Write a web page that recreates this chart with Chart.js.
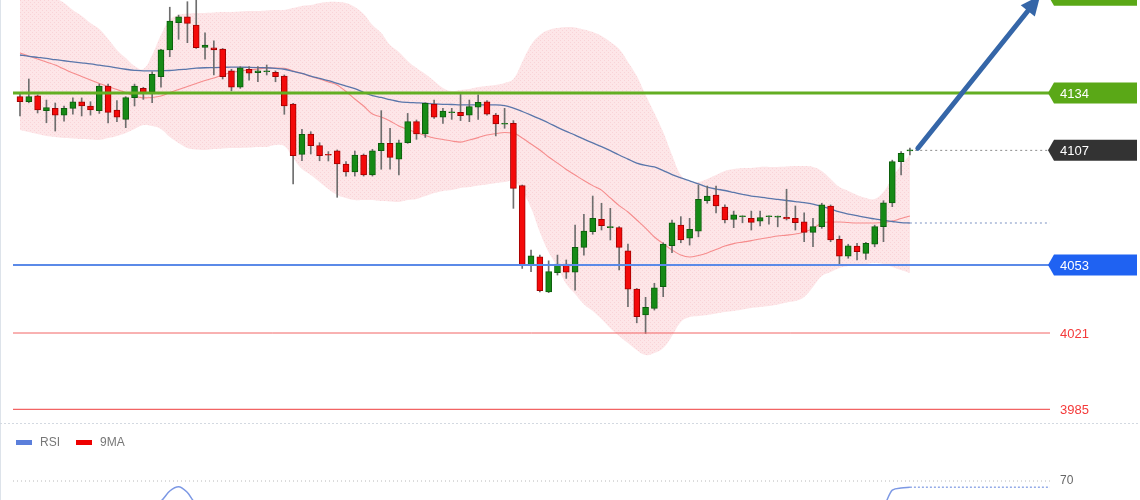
<!DOCTYPE html>
<html><head><meta charset="utf-8">
<script src="https://cdn.jsdelivr.net/npm/chart.js@4.4.0/dist/chart.umd.min.js"></script>
<style>
html,body{margin:0;padding:0;background:#fff;}
#wrap{position:relative;width:1140px;height:500px;overflow:hidden;background:#fff;}
#main{position:absolute;left:0;top:0;}
#rsiBox{position:absolute;left:0;top:422px;width:1140px;height:78px;overflow:hidden;}
</style></head><body>
<div id="wrap">
<canvas id="main" width="1140" height="422"></canvas>
<div id="rsiBox"><canvas id="rsi" width="1140" height="200"></canvas></div>
</div>
<script>
// ---------------- DATA ----------------
const opens = [4132.3,4129.9,4132.7,4125.7,4126.8,4123.6,4126.8,4129.9,4127.9,4125.7,
4137.3,4126.0,4121.6,4131.8,4136.2,4134.6,4141.7,4154.3,4167.1,4169.9,
4166.0,4155.5,4155.3,4154.7,4144.4,4136.7,4145.2,4143.6,4144.0,4143.8,
4142.0,4128.8,4105.1,4114.7,4109.2,4105.1,4106.8,4100.6,4096.9,4104.8,
4095.4,4106.8,4110.3,4102.8,4110.6,4120.5,4114.7,4128.8,4122.6,4124.7,
4124.9,4123.6,4127.3,4129.9,4123.6,4119.3,4119.7,4090.4,4052.7,4056.9,
4040.4,4049.4,4053.5,4049.6,4061.3,4068.7,4074.5,4070.6,4070.6,4059.7,
4041.7,4029.5,4032.6,4042.8,4062.1,4071.8,4065.6,4069.0,4083.3,4086.0,
4080.3,4074.5,4075.8,4075.0,4073.7,4075.8,4075.6,4075.5,4075.0,4073.4,
4068.4,4071.1,4080.8,4065.1,4057.2,4061.9,4058.5,4062.8,4071.1,4082.3,
4101.7,4106.7];
const highs = [4134.0,4140.6,4133.1,4130.7,4129.3,4127.9,4131.7,4131.7,4129.9,4138.2,
4138.2,4130.4,4132.3,4138.2,4136.7,4144.0,4154.6,4174.4,4170.7,4177.0,
4178.5,4162.4,4158.6,4155.0,4145.2,4146.4,4146.4,4146.4,4147.2,4144.4,
4142.5,4129.2,4116.9,4115.8,4110.6,4106.4,4107.2,4101.7,4106.7,4105.3,
4107.5,4125.7,4117.4,4111.9,4124.4,4121.3,4129.4,4130.7,4126.8,4126.8,
4133.5,4130.7,4133.1,4130.4,4124.4,4126.8,4121.0,4090.7,4060.1,4057.7,
4055.0,4057.7,4055.4,4071.8,4076.9,4085.5,4082.1,4079.7,4071.1,4062.9,
4042.0,4037.8,4044.4,4063.5,4074.2,4075.8,4075.0,4090.7,4090.2,4090.2,
4081.3,4078.4,4076.2,4078.4,4078.4,4076.2,4076.1,4088.7,4080.8,4077.6,
4075.0,4082.1,4081.3,4066.7,4062.8,4063.2,4063.7,4071.8,4083.3,4102.4,
4106.4,4108.1];
const lows = [4123.2,4129.4,4124.6,4120.0,4116.1,4120.8,4124.1,4123.2,4123.6,4124.4,
4119.9,4120.5,4117.7,4127.9,4131.0,4129.4,4136.7,4151.1,4159.3,4157.7,
4155.0,4149.9,4142.5,4140.6,4135.0,4136.2,4140.1,4139.3,4142.5,4139.3,
4124.0,4091.2,4102.1,4105.3,4102.1,4102.0,4084.9,4094.9,4094.9,4094.9,
4094.9,4098.1,4098.1,4095.4,4110.3,4112.2,4113.1,4122.1,4119.7,4121.6,
4121.0,4120.5,4121.6,4123.6,4113.8,4117.4,4079.7,4051.4,4049.9,4040.4,
4040.0,4048.3,4046.7,4041.2,4057.7,4067.5,4069.5,4064.8,4050.7,4033.4,
4025.8,4020.8,4031.8,4038.1,4058.8,4063.5,4062.4,4066.3,4082.1,4077.6,
4072.8,4070.6,4072.9,4069.5,4071.4,4072.3,4071.0,4074.2,4069.5,4064.0,
4061.6,4070.3,4064.0,4053.3,4056.2,4055.4,4055.7,4061.6,4064.0,4080.5,
4095.4,4104.8];
const closes = [4129.9,4132.3,4126.0,4127.1,4123.6,4126.8,4129.9,4127.9,4126.0,4137.3,
4124.9,4122.6,4131.8,4137.3,4133.9,4142.8,4154.3,4167.9,4169.9,4166.8,
4155.3,4156.6,4154.3,4141.7,4136.7,4145.9,4143.3,4144.4,4144.5,4141.7,
4127.9,4104.5,4114.6,4109.2,4104.5,4104.7,4100.6,4096.9,4104.8,4095.4,
4106.8,4110.3,4103.7,4110.6,4120.5,4114.7,4129.2,4122.6,4125.5,4125.2,
4123.3,4127.6,4129.6,4124.0,4119.4,4119.7,4089.1,4052.7,4057.4,4040.9,
4049.9,4053.5,4049.6,4061.3,4069.0,4075.0,4071.5,4071.1,4061.3,4041.6,
4028.7,4033.1,4042.3,4062.9,4072.9,4064.8,4069.8,4083.9,4085.5,4080.8,
4074.2,4076.6,4076.2,4073.1,4075.3,4076.2,4076.1,4074.7,4072.9,4068.4,
4071.1,4081.3,4064.8,4057.2,4062.1,4059.3,4063.2,4071.1,4082.3,4101.7,
4105.6,4107.2];
const bandUpper = [4182.5,4181.6,4180.6,4180.2,4178.7,4176.4,4173.1,4170.3,4167.0,4164.1,
4159.4,4154.3,4150.5,4146.7,4145.3,4151.9,4161.3,4168.4,4170.7,4171.4,
4171.7,4171.7,4171.9,4172.1,4172.1,4172.4,4172.6,4172.6,4172.9,4173.1,
4173.1,4174.0,4175.0,4175.4,4176.4,4176.9,4176.9,4176.4,4174.5,4171.2,
4166.0,4162.3,4156.6,4153.3,4149.1,4145.8,4143.0,4139.7,4136.4,4134.9,
4135.4,4135.9,4136.8,4137.3,4137.8,4138.7,4140.6,4148.6,4156.6,4161.3,
4163.7,4164.6,4165.1,4164.9,4163.9,4162.7,4160.8,4158.0,4154.7,4148.6,
4142.0,4133.1,4124.6,4115.6,4104.8,4095.4,4092.1,4092.1,4093.5,4095.4,
4097.3,4098.2,4098.7,4098.7,4099.2,4099.2,4099.2,4099.4,4099.6,4099.6,
4099.2,4097.3,4093.5,4089.7,4087.9,4086.0,4084.6,4084.1,4087.4,4094.0,
4100.1,4104.8];
const bandLower = [4116.6,4115.6,4114.7,4113.8,4113.3,4112.8,4112.6,4112.3,4112.1,4111.9,
4112.8,4113.8,4115.2,4117.1,4118.9,4118.5,4117.1,4113.3,4110.5,4108.1,
4107.4,4107.2,4107.6,4107.9,4108.1,4108.1,4108.3,4108.6,4108.6,4109.5,
4109.0,4103.4,4098.2,4095.4,4092.1,4088.8,4086.0,4084.6,4083.6,4083.6,
4083.6,4083.1,4082.9,4082.7,4083.6,4084.1,4085.5,4086.9,4087.9,4088.3,
4089.3,4089.7,4090.4,4090.9,4091.6,4092.1,4092.6,4087.9,4079.9,4068.6,
4059.1,4052.1,4044.1,4039.4,4034.6,4031.4,4027.6,4023.3,4019.6,4016.3,
4013.0,4010.6,4011.6,4013.9,4019.6,4026.2,4028.5,4029.0,4029.5,4030.2,
4030.9,4031.4,4032.1,4032.8,4033.2,4033.7,4034.4,4035.4,4036.1,4038.0,
4042.7,4047.8,4049.7,4051.6,4052.5,4053.0,4053.5,4054.0,4053.5,4052.1,
4050.7,4049.2];
const maSlow = [4151.9,4151.3,4150.8,4150.3,4149.7,4149.2,4148.7,4148.2,4147.7,4147.1,
4146.5,4145.8,4145.2,4144.7,4144.4,4144.4,4144.5,4144.6,4145.0,4145.3,
4145.7,4145.9,4146.0,4146.1,4146.2,4146.2,4146.1,4146.0,4145.9,4145.6,
4145.2,4144.2,4143.2,4142.0,4140.9,4139.8,4138.5,4137.3,4136.1,4134.3,
4132.8,4131.9,4130.9,4130.0,4129.6,4129.4,4129.2,4128.9,4128.7,4128.6,
4128.4,4128.4,4128.4,4128.4,4128.4,4128.1,4126.9,4125.3,4123.6,4121.8,
4119.9,4117.8,4115.9,4114.2,4112.3,4110.5,4108.8,4106.9,4104.8,4102.9,
4101.0,4099.9,4099.2,4097.5,4095.6,4094.0,4092.6,4091.2,4089.7,4088.8,
4088.1,4087.2,4086.3,4085.5,4085.0,4084.4,4083.9,4083.4,4082.9,4082.4,
4081.7,4080.6,4079.4,4078.0,4077.0,4076.3,4075.4,4074.7,4074.0,4073.5,
4073.0,4072.8];
const maFast = [4152.8,4151.4,4150.0,4148.6,4147.2,4145.3,4143.4,4141.8,4140.1,4138.5,
4137.1,4135.7,4134.2,4132.6,4131.7,4131.9,4132.6,4134.2,4135.7,4137.1,
4138.5,4139.9,4141.1,4142.5,4143.7,4144.4,4144.8,4145.3,4145.8,4145.8,
4145.7,4144.4,4143.2,4141.8,4140.6,4139.2,4137.8,4134.7,4131.2,4127.9,
4124.1,4122.7,4120.8,4118.5,4116.8,4115.4,4114.0,4112.8,4112.1,4111.4,
4110.9,4111.9,4113.0,4114.2,4114.9,4115.4,4115.2,4112.8,4110.0,4107.2,
4103.9,4101.0,4098.0,4095.4,4092.8,4090.4,4088.3,4084.6,4081.0,4078.0,
4074.2,4070.4,4066.2,4063.1,4060.1,4057.7,4056.8,4057.5,4058.7,4060.3,
4062.0,4063.1,4063.8,4064.5,4065.3,4066.0,4066.7,4067.1,4067.6,4068.6,
4070.2,4072.8,4073.3,4073.3,4073.0,4072.8,4072.8,4072.8,4073.0,4073.7,
4074.9,4076.1];
const rsi = [46,48,45,45,43,44,46,45,44,50,
44,42,48,51,50,52,54.6,62.3,65.6,61.2,
53,53,52,47,45,48,47,47,47,46,
41,33,38,36,34,34,32,31,35,32,
37,39,36,40,45,43,49,46,48,47,
47,49,50,47,45,45,34,25,28,24,
30,32,31,37,41,44,43,43,39,33,
30,32,37,45,50,48,49,53,54,52,
50,51,51,50,51,51,51,50,50,48,
49,53,47,44,46,45,45,46,50,63,
64.6,65.2];
const rsiMA = [47,47,47,46,46,45,45,45,45,46,
45,45,45,46,47,47,48,49,51,52,
53,53,53,52,51,50,49,48,48,47,
46,44,43,41,40,39,37,36,35,34,
34,35,35,36,37,38,40,41,43,45,
46,47,47,48,47,47,46,44,41,38,
35,33,31,30,31,32,34,36,38,39,
38,37,37,38,40,42,44,46,48,50,
51,51,51,51,51,51,51,51,51,50,
50,50,50,49,48,48,47,47,47,49,
51,53];
const levelValues = [4180, 4134, 4107, 4053, 4021, 3985];
const levelLabels = ['4180', '4134', '4107', '4053', '4021', '3985'];
const rsiLevel = 70;
const rsiLevelLabel = '70';
const priceMin = 3979.1, priceMax = 4177.8;
const xMin = 0.206, xMax = 117.9;
const arrowFrom = {x: 102.9, y: 4108};
const arrowTo = {x: 116.8, y: 4180};
const lastPriceStart = 102.6;

// ---------------- STYLES ----------------
const FONT = '"Liberation Sans", Arial, sans-serif';
const levelStyles = [
  {box: '#5aa817', text: '#ffffff'},
  {box: '#5aa817', text: '#ffffff'},
  {box: '#333333', text: '#ffffff'},
  {box: '#1f62f2', text: '#ffffff'},
  {box: null, text: '#f43a3a'},
  {box: null, text: '#f43a3a'}
];

const idx = opens.map((_, i) => i + 1);
const lastIdx = idx[idx.length - 1];
const pts = arr => idx.map((x, i) => ({x, y: arr[i]}));
const hline = (v, from) => [{x: from, y: v}, {x: xMax, y: v}];

function makePattern() {
  const c = document.createElement('canvas');
  c.width = 4; c.height = 4;
  const g = c.getContext('2d');
  g.fillStyle = '#fde6e8'; g.fillRect(0, 0, 4, 4);
  g.fillStyle = '#f9d3d7'; g.fillRect(0, 0, 1, 1); g.fillRect(2, 2, 1, 1);
  return g.createPattern(c, 'repeat');
}
const bandFill = makePattern();

const up = idx.map((_, i) => closes[i] >= opens[i]);
const bodyColors = up.map(u => u ? '#168a16' : '#f40a0a');
const bodyBorders = up.map(u => u ? '#0c5e0c' : '#a30000');

const edgePlugin = {
  id: 'edge',
  beforeDraw(chart) {
    const ctx = chart.ctx;
    ctx.save();
    ctx.fillStyle = '#ffffff';
    ctx.fillRect(0, 0, chart.width, chart.height);
    ctx.strokeStyle = '#dde3ea';
    ctx.lineWidth = 1;
    ctx.beginPath(); ctx.moveTo(0.5, 0); ctx.lineTo(0.5, chart.height); ctx.stroke();
    ctx.restore();
  }
};

const mainPlugin = {
  id: 'mainDecor',
  afterDraw(chart) {
    const ctx = chart.ctx, xs = chart.scales.x, ys = chart.scales.y;
    const right = chart.chartArea.right;
    ctx.save();
    // arrow
    const x1 = xs.getPixelForValue(arrowFrom.x), y1 = ys.getPixelForValue(arrowFrom.y);
    const x2 = xs.getPixelForValue(arrowTo.x), y2 = ys.getPixelForValue(arrowTo.y);
    const ang = Math.atan2(y2 - y1, x2 - x1);
    const headLen = 20, headW = 9;
    const bx = x2 - headLen * Math.cos(ang), by = y2 - headLen * Math.sin(ang);
    ctx.strokeStyle = '#3566a8'; ctx.fillStyle = '#3566a8';
    ctx.lineWidth = 5; ctx.lineCap = 'round';
    ctx.beginPath(); ctx.moveTo(x1, y1); ctx.lineTo(bx, by); ctx.stroke();
    ctx.beginPath();
    ctx.moveTo(x2, y2);
    ctx.lineTo(bx + headW * Math.sin(ang), by - headW * Math.cos(ang));
    ctx.lineTo(bx - headW * Math.sin(ang), by + headW * Math.cos(ang));
    ctx.closePath(); ctx.fill();
    // level labels
    ctx.font = '13px ' + FONT;
    ctx.textBaseline = 'middle';
    ctx.textAlign = 'left';
    levelValues.forEach((v, i) => {
      const y = ys.getPixelForValue(v);
      const st = levelStyles[i];
      if (st.box) {
        const x0 = right - 2, xe = chart.width - 3, h = 21, n = 6;
        ctx.fillStyle = st.box;
        ctx.beginPath();
        ctx.moveTo(x0, y);
        ctx.lineTo(x0 + n, y - h / 2);
        ctx.lineTo(xe, y - h / 2);
        ctx.lineTo(xe, y + h / 2);
        ctx.lineTo(x0 + n, y + h / 2);
        ctx.closePath(); ctx.fill();
      }
      ctx.fillStyle = st.text;
      ctx.fillText(levelLabels[i], right + 10, y + 1);
    });
    ctx.restore();
  }
};

new Chart(document.getElementById('main'), {
  type: 'bar',
  data: {
    datasets: [
      {type: 'line', label: 'upper', data: pts(bandUpper), borderColor: 'rgba(0,0,0,0)', borderWidth: 1,
       pointRadius: 0, tension: 0.4, fill: '+1', backgroundColor: bandFill, order: 20},
      {type: 'line', label: 'lower', data: pts(bandLower), borderColor: 'rgba(0,0,0,0)', borderWidth: 1,
       pointRadius: 0, tension: 0.4, fill: false, order: 19},
      {type: 'line', label: 'maSlow', data: pts(maSlow), borderColor: '#5a76aa', borderWidth: 1.3,
       pointRadius: 0, cubicInterpolationMode: 'monotone', order: 10},
      {type: 'line', label: 'maFast', data: pts(maFast), borderColor: 'rgba(244,118,118,0.8)', borderWidth: 1.1,
       pointRadius: 0, cubicInterpolationMode: 'monotone', order: 10},
      {type: 'line', label: 'maSlowNow', data: hline(maSlow[maSlow.length - 1], lastIdx), borderColor: '#a6b6d6',
       borderWidth: 1.5, borderDash: [2, 3], pointRadius: 0, order: 9},
      {type: 'bar', label: 'wicks', data: idx.map((x, i) => ({x, y: [lows[i], highs[i]]})),
       backgroundColor: '#6e6e6e', barThickness: 1, grouped: false, order: 6},
      {type: 'bar', label: 'bodies', data: idx.map((x, i) => ({x, y: [opens[i], closes[i]]})),
       backgroundColor: bodyColors, borderColor: bodyBorders, borderWidth: 1, borderSkipped: false,
       barThickness: 6, grouped: false, order: 5},
      {type: 'line', label: 'res', data: hline(levelValues[1], xMin), borderColor: '#63ae22', borderWidth: 3, pointRadius: 0, order: 1},
      {type: 'line', label: 'last', data: hline(levelValues[2], lastPriceStart), borderColor: '#8c8c8c', borderWidth: 1,
       borderDash: [2, 3], pointRadius: 0, order: 1},
      {type: 'line', label: 'sup', data: hline(levelValues[3], xMin), borderColor: '#5b8ae8', borderWidth: 2, pointRadius: 0, order: 1},
      {type: 'line', label: 's2', data: hline(levelValues[4], xMin), borderColor: '#f26464', borderWidth: 1, pointRadius: 0, order: 1},
      {type: 'line', label: 's3', data: hline(levelValues[5], xMin), borderColor: '#f26464', borderWidth: 1.2, pointRadius: 0, order: 1}
    ]
  },
  options: {
    responsive: false, animation: false, events: [],
    layout: {padding: {left: 13, right: 90, top: 0, bottom: 0}},
    plugins: {legend: {display: false}, tooltip: {enabled: false}},
    scales: {
      x: {type: 'linear', min: xMin, max: xMax, offset: false, display: false},
      y: {type: 'linear', min: priceMin, max: priceMax, display: false}
    }
  },
  plugins: [edgePlugin, mainPlugin]
});

const rsiPlugin = {
  id: 'rsiDecor',
  afterDraw(chart) {
    const ctx = chart.ctx, ys = chart.scales.y;
    const right = chart.chartArea.right;
    ctx.save();
    // separator
    ctx.strokeStyle = '#d3d9e1'; ctx.lineWidth = 1; ctx.setLineDash([2, 2]);
    ctx.beginPath(); ctx.moveTo(0, 1.5); ctx.lineTo(chart.width, 1.5); ctx.stroke();
    ctx.setLineDash([]);
    // legend
    ctx.font = '12px ' + FONT; ctx.textBaseline = 'middle'; ctx.textAlign = 'left';
    let x = 16;
    chart.data.datasets.filter(d => d.legendColor).forEach(d => {
      ctx.fillStyle = d.legendColor;
      ctx.fillRect(x, 18, 16, 5);
      ctx.fillStyle = '#777';
      ctx.fillText(d.label, x + 24, 21);
      x += 24 + ctx.measureText(d.label).width + 16;
    });
    // level label
    ctx.fillStyle = '#666';
    ctx.fillText(rsiLevelLabel, right + 10, ys.getPixelForValue(rsiLevel));
    ctx.restore();
  }
};

new Chart(document.getElementById('rsi'), {
  type: 'line',
  data: {
    datasets: [
      {label: 'RSI', legendColor: '#5b7fdb', data: pts(rsi), borderColor: '#7c98e4', borderWidth: 1.5,
       pointRadius: 0, cubicInterpolationMode: 'monotone', order: 2},
      {label: '9MA', legendColor: '#ee0000', data: pts(rsiMA), borderColor: '#e84545', borderWidth: 1.5,
       pointRadius: 0, cubicInterpolationMode: 'monotone', order: 3},
      {label: 'lvl', data: hline(rsiLevel, xMin), borderColor: '#b8b8b8', borderWidth: 1, borderDash: [1, 3],
       pointRadius: 0, order: 4},
      {label: 'rsiNow', data: hline(rsi[rsi.length - 1], lastIdx), borderColor: '#94abe8', borderWidth: 1.5,
       borderDash: [2, 2], pointRadius: 0, order: 1}
    ]
  },
  options: {
    responsive: false, animation: false, events: [],
    layout: {padding: {left: 13, right: 90, top: 20, bottom: 50}},
    plugins: {legend: {display: false}, tooltip: {enabled: false}},
    scales: {
      x: {type: 'linear', min: xMin, max: xMax, display: false},
      y: {type: 'linear', min: 0, max: 100, display: false}
    }
  },
  plugins: [edgePlugin, rsiPlugin]
});
</script>
</body></html>
